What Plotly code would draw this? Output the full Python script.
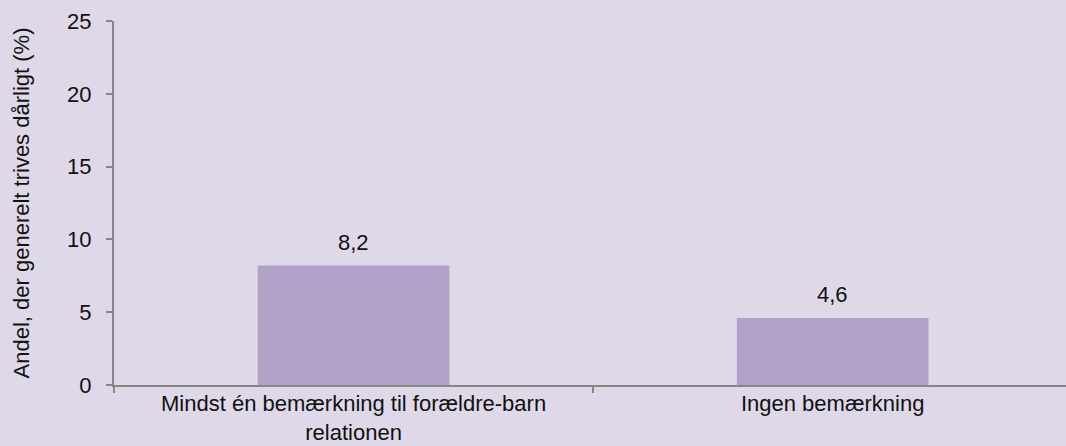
import plotly.graph_objects as go

categories = ["Mindst én bemærkning til forældre-barn<br>relationen", "Ingen bemærkning"]
values = [8.2, 4.6]
y_ticks = [0, 5, 10, 15, 20, 25]

BG = "#DED8E8"
BAR = "#B2A2C7"
AX = "#868686"
FONT = "Liberation Sans, Arial, sans-serif"
FS = 22
TXT = "#111111"

fig = go.Figure()
fig.add_trace(go.Bar(x=categories, y=values, marker=dict(color=BAR, line=dict(width=0)),
                     hoverinfo="skip"))

for c, v in zip(categories, values):
    fig.add_annotation(x=c, y=v, text=f"{v:.1f}".replace(".", ","), showarrow=False,
                       yanchor="bottom", yshift=9, font=dict(family=FONT, size=FS, color=TXT))

fig.update_layout(
    width=1066, height=446,
    margin=dict(l=114, r=0, t=21, b=61),
    paper_bgcolor=BG, plot_bgcolor=BG,
    separators=",.",
    bargap=0.6,
    showlegend=False,
    font=dict(family=FONT, size=FS, color=TXT),
)
fig.update_xaxes(
    range=[-0.5, 1.487], showline=True, linecolor=AX, linewidth=2,
    ticks="outside", tickson="boundaries", ticklen=6, tickcolor=AX, tickwidth=2,
    ticklabelstandoff=-2,
    showgrid=False, zeroline=False, tickfont=dict(size=FS, family=FONT, color=TXT),
)
fig.update_yaxes(
    range=[0, 25], tickvals=y_ticks, showline=True, linecolor=AX, linewidth=2,
    ticks="outside", ticklen=6, tickcolor=AX, tickwidth=2, ticklabelstandoff=10,
    showgrid=False, zeroline=False, tickfont=dict(size=FS, family=FONT, color=TXT),
    title=dict(text="Andel, der generelt trives dårligt (%)", font=dict(size=FS, family=FONT, color=TXT),
               standoff=31),
)

fig.write_html("out.html")
